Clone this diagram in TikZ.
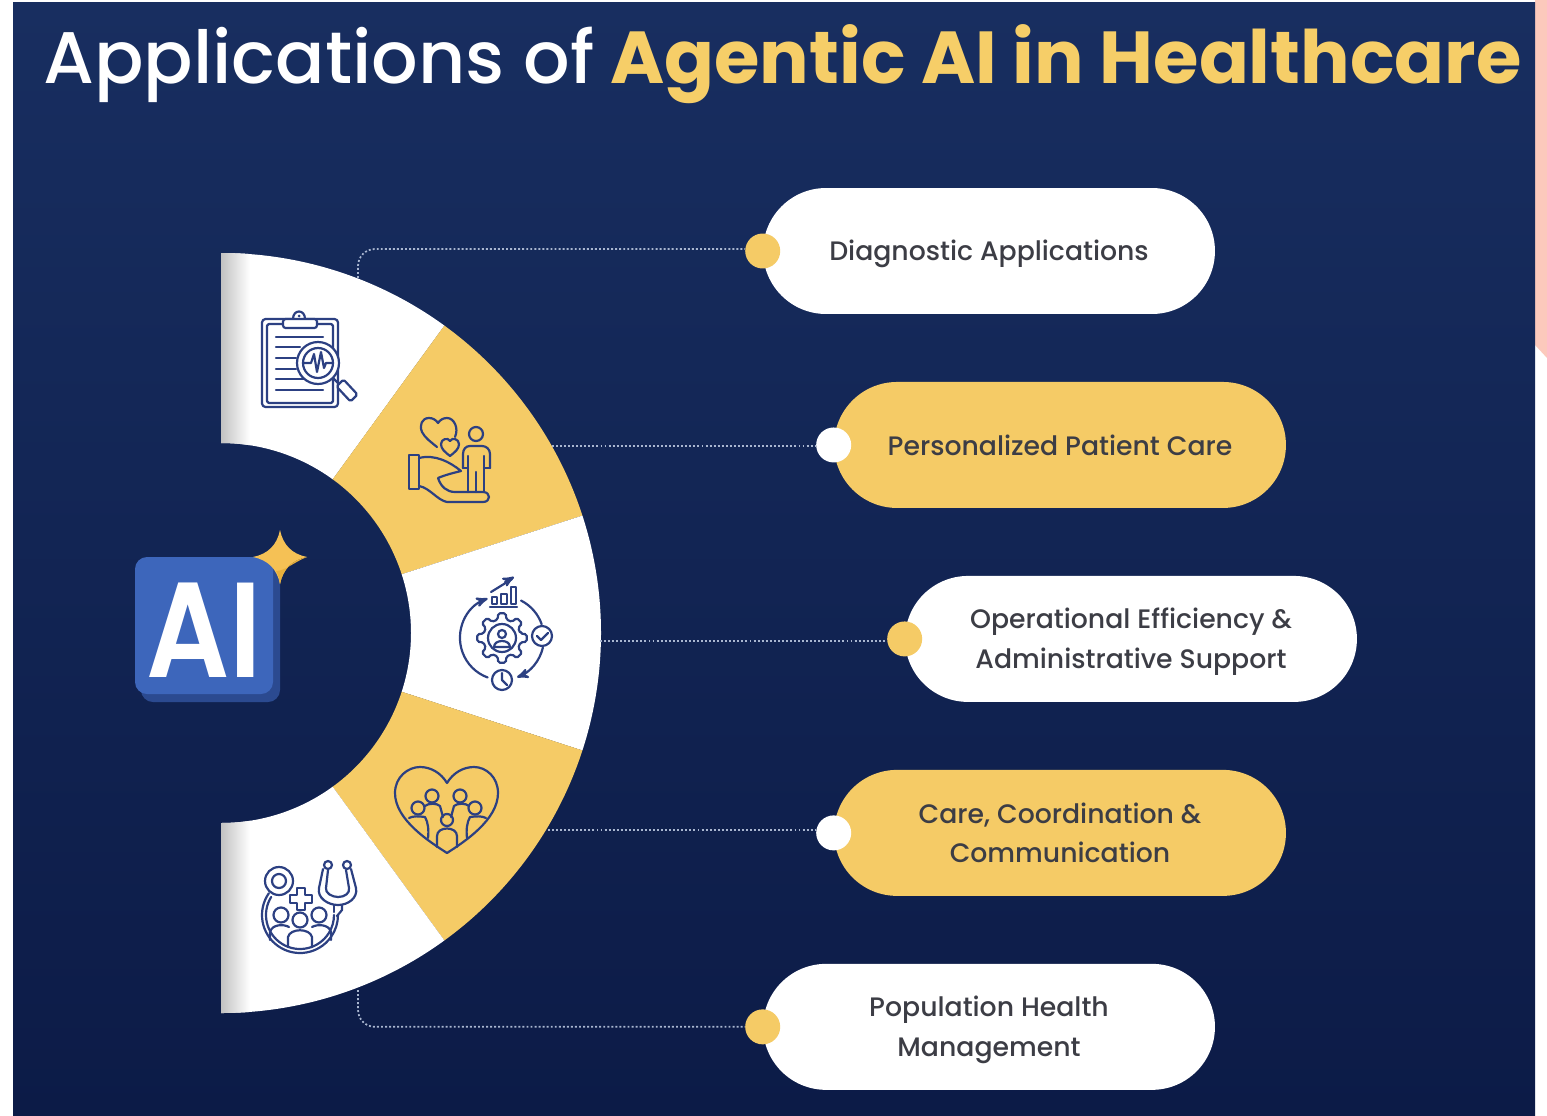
\documentclass[tikz,border=0pt]{standalone}
\usepackage{fontspec}
\setmainfont{Poppins}
\newfontfamily\mediumfont{Poppins Medium}
\newfontfamily\badgefont[FakeStretch=0.86]{Poppins SemiBold}
\usepackage{tikz}
\usetikzlibrary{arrows,shapes,shapes.misc,positioning}

\definecolor{navytop}{HTML}{182E60}
\definecolor{navybot}{HTML}{0C1B47}
\definecolor{gold}{HTML}{F5CB66}
\definecolor{goldtitle}{HTML}{F6CE68}
\definecolor{pink}{HTML}{FCC9BC}
\definecolor{inkblue}{HTML}{2C4082}
\definecolor{labelgray}{HTML}{3C3D45}
\definecolor{dotblue}{HTML}{A9B6D0}
\definecolor{badgeblue}{HTML}{3D66BB}
\definecolor{badgedark}{HTML}{2B4A90}
\definecolor{starlight}{HTML}{F5C155}
\definecolor{stardark}{HTML}{E8B03C}

\newcommand{\droptext}[1]{\raisebox{-1.7pt}[\height][\depth]{#1}}

\begin{document}
\begin{tikzpicture}[x=0.02cm,y=-0.02cm,>=stealth',node distance=3.88cm]
  \tikzstyle{pillwhite}=[rounded rectangle,fill=white,minimum width=9.04cm,minimum height=2.52cm,inner sep=0pt,align=center,text=labelgray,font=\mediumfont\fontsize{15.2}{22.7}\selectfont]
  \tikzstyle{pillgold}=[pillwhite,fill=gold]
  \tikzstyle{dotgold}=[circle,fill=gold,minimum size=0.7cm,inner sep=0pt]
  \tikzstyle{dotwhite}=[dotgold,fill=white]
  \tikzstyle{dotline}=[dotblue,line width=1pt,dash pattern=on 1.1pt off 1.2pt,rounded corners=0.34cm]
  \tikzstyle{iconline}=[inkblue,line width=1.25pt,line cap=round,line join=round]

  \useasboundingbox (0,0) rectangle (1547,1115);

  % page and background
  \fill[white] (0,0) rectangle (1547,1115);
  \fill[pink] (1500,0) -- (1547,0) -- (1547,358) -- (1535,345) -- (1535,0) -- cycle;
  \shade[top color=navytop,bottom color=navybot] (13,3) rectangle (1535,1115);

  \node[anchor=base west,inner sep=0pt,text=white,font=\mediumfont\fontsize{41.6}{50}\selectfont] (title) at (43,84) {Applications of\hspace{-2pt} \textcolor{goldtitle}{\setmainfont{Poppins}\fontsize{41.9}{50}\selectfont\textbf{Agentic AI in Healthcare}}};

  % half wheel
  \coordinate (hub) at (221,633);
  \fill[white] (hub) ++(-90:380) arc[start angle=-90,end angle=-54,radius=380] -- ++(126:190) arc[start angle=-54,end angle=-90,radius=190] -- cycle;
  \fill[gold] (hub) ++(-54:380) arc[start angle=-54,end angle=-18,radius=380] -- ++(162:190) arc[start angle=-18,end angle=-54,radius=190] -- cycle;
  \fill[white] (hub) ++(-18:380) arc[start angle=-18,end angle=18,radius=380] -- ++(198:190) arc[start angle=18,end angle=-18,radius=190] -- cycle;
  \fill[gold] (hub) ++(18:380) arc[start angle=18,end angle=54,radius=380] -- ++(234:190) arc[start angle=54,end angle=18,radius=190] -- cycle;
  \fill[white] (hub) ++(54:380) arc[start angle=54,end angle=90,radius=380] -- ++(0,-190) arc[start angle=90,end angle=54,radius=190] -- cycle;
  \begin{scope}
    \clip (hub) ++(-90:380) arc[start angle=-90,end angle=-54,radius=380] -- ++(126:190) arc[start angle=-54,end angle=-90,radius=190] -- cycle;
    \shade[left color=black!24,right color=white] (221,250) rectangle (250,445);
  \end{scope}
  \begin{scope}
    \clip (hub) ++(54:380) arc[start angle=54,end angle=90,radius=380] -- ++(0,-190) arc[start angle=90,end angle=54,radius=190] -- cycle;
    \shade[left color=black!24,right color=white] (221,820) rectangle (250,1016);
  \end{scope}

  % pills
  \node[pillwhite] (diag) at (989,251) {\droptext{Diagnostic Applications}};
  \node[pillgold, xshift=1.42cm] (pers) [below of=diag] {Personalized Patient Care};
  \node[pillwhite, xshift=1.42cm] (oper) [below of=pers] {\droptext{Operational Efficiency \&}\\\droptext{Administrative Support}};
  \node[pillgold, xshift=-1.42cm] (care) [below of=oper] {Care, Coordination \&\\Communication};
  \node[pillwhite, xshift=-1.42cm] (popu) [below of=care] {\droptext{Population Health}\\\droptext{Management}};

  \node[dotgold] (d1) at (diag.west) {};
  \node[dotwhite] (d2) at (pers.west) {};
  \node[dotgold] (d3) at (oper.west) {};
  \node[dotwhite] (d4) at (care.west) {};
  \node[dotgold] (d5) at (popu.west) {};

  % connectors
  \coordinate (w1) at (358,278);
  \coordinate (w2) at (552,446);
  \coordinate (w3) at (600,641);
  \coordinate (w4) at (548,830);
  \coordinate (w5) at (358,990);
  \draw[dotline] (w1) |- ([yshift=0.04cm]d1.west);
  \draw[dotline] (w2) -- (d2.west |- w2);
  \draw[dotline] (w3) -- (d3.west |- w3);
  \draw[dotline] (w4) -- (d4.west |- w4);
  \draw[dotline] (w5) |- (d5.west);

  % AI badge
  \fill[badgedark,rounded corners=0.24cm] (141,563) rectangle (280,702);
  \fill[badgeblue,rounded corners=0.24cm] (135,557) rectangle (273,694);
  \node[text=white,inner sep=0pt,font=\badgefont\fontsize{77}{80}\selectfont] (ailabel) at (204,630) {AI};
  \fill[starlight] (280,530) .. controls (283,545) and (292,554) .. (307,557) .. controls (292,560) and (283,569) .. (280,584) .. controls (277,569) and (268,560) .. (253,557) .. controls (268,554) and (277,545) .. (280,530) -- cycle;
  \fill[stardark] (307,557) .. controls (292,560) and (283,569) .. (280,584) .. controls (279,578) and (278,574) .. (276,571) .. controls (285,571) and (294,562) .. (307,557) -- cycle;

  % clipboard icon
  \draw[iconline,rounded corners=2pt] (262,319) rectangle (338,407);
  \draw[iconline,rounded corners=1pt] (267,324) rectangle (333,403);
  \draw[iconline,fill=white] (293,319) .. controls (293,309) and (305,309) .. (305,319);
  \draw[iconline,fill=white,rounded corners=1.5pt] (283,319) rectangle (317,328);
  \fill[inkblue] (299,316) circle (1.5);
  \draw[iconline] (276,337) -- (323,337) (276,347) -- (300,347) (276,358) -- (296,358) (276,369) -- (296,369) (276,379) -- (305,379) (276,390) -- (323,390);
  \draw[iconline,fill=white] (318,363) circle (21);
  \draw[iconline] (318,363) circle (15);
  \draw[iconline] (304,363) -- (311,363) -- (314,354) -- (317,372) -- (321,352) -- (324,368) -- (326,363) -- (332,363);
  \draw[iconline] (333,378) -- (339,384);
  \draw[iconline,fill=white,rounded corners=1pt] (343.5,379.5) -- (357.5,394.5) -- (350.5,401.5) -- (336.5,386.5) -- cycle;

  % caring hand icon
  \draw[iconline] (455,437) .. controls (459,428) and (454,418) .. (447,418) .. controls (443,418) and (440,420) .. (438,423) .. controls (436,420) and (433,418) .. (429,418) .. controls (422,418) and (419,425) .. (422,432) .. controls (425,438) and (431,442) .. (437,447);
  \draw[iconline] (450,456) .. controls (445,452) and (441,449) .. (441,444) .. controls (441,439) and (448,437) .. (450,441) .. controls (452,437) and (459,439) .. (459,444) .. controls (459,449) and (455,452) .. (450,456) -- cycle;
  \draw[iconline] (476,434) circle (7);
  \draw[iconline] (463,468) -- (463,454) .. controls (463,449) and (466,446) .. (470,446) -- (482,446) .. controls (486,446) and (490,449) .. (490,454) -- (490,468);
  \draw[iconline] (468,456) -- (468,492) (484,456) -- (484,492) (476,472) -- (476,492) (463,468) -- (468,468) (490,468) -- (484,468);
  \draw[iconline] (409,455) rectangle (419,489);
  \draw[iconline] (419,458) .. controls (435,454) and (450,462) .. (461,471) .. controls (453,473) and (445,475) .. (438,478) .. controls (441,487) and (447,492) .. (455,492) -- (483,492) .. controls (491,492) and (491,502) .. (483,502) -- (447,502) .. controls (437,500) and (430,488) .. (419,486);

  % workflow icon
  \draw[iconline] (491,592) -- (512,579);
  \draw[iconline,->] (505,582) -- (514,577);
  \draw[iconline] (492,597) rectangle (497,604) (501,594) rectangle (507,604) (511,587) rectangle (516,604);
  \draw[iconline] (490,607) -- (517,607);
  \begin{scope}[shift={(502,638)}]
    \draw[iconline,rounded corners=1pt] (-13:19) \foreach \a in {0,45,...,315}{ -- (\a-13:19) -- (\a-9:25) -- (\a+9:25) -- (\a+13:19)} -- cycle;
    \draw[iconline] (0,0) circle (14);
    \draw[iconline] (0,-4) circle (4);
    \draw[iconline] (-8,9) .. controls (-8,1) and (8,1) .. (8,9) -- cycle;
    \draw[iconline,<-] (250:42) arc[start angle=250,end angle=110,radius=42];
    \draw[iconline,->] (13:42) arc[start angle=13,end angle=69,radius=42];
    \draw[iconline] (-63:42) arc[start angle=-63,end angle=-19,radius=42];
  \end{scope}
  \draw[iconline] (502,680) circle (10);
  \draw[iconline] (502,673) -- (502,680) -- (507,685);
  \draw[iconline] (542,636) circle (10);
  \draw[iconline] (537,636) -- (541,640) -- (548,633);

  % community heart icon
  \draw[iconline] (447,853) .. controls (430,842) and (395,820) .. (395,793) .. controls (395,777) and (408,767) .. (420,767) .. controls (431,767) and (441,773) .. (447,783) .. controls (453,773) and (463,767) .. (474,767) .. controls (486,767) and (498,777) .. (498,793) .. controls (498,820) and (464,842) .. (447,853) -- cycle;
  \draw[iconline] (432,796) circle (6.5) (460,796) circle (6.5) (418,808) circle (6.5) (475,808) circle (6.5) (447,820) circle (6);
  \draw[iconline] (409,818) .. controls (413,816) and (418,816) .. (425,817) .. controls (428,822) and (429,830) .. (428,838);
  \draw[iconline] (486,818) .. controls (482,816) and (477,816) .. (470,817) .. controls (467,822) and (466,830) .. (467,838);
  \draw[iconline] (425,806) .. controls (428,803) and (437,803) .. (440,806) -- (443,817);
  \draw[iconline] (469,806) .. controls (466,803) and (457,803) .. (454,806) -- (451,817);
  \draw[iconline] (437,847) -- (437,836) .. controls (437,826) and (457,826) .. (457,836) -- (457,847);

  % stethoscope team icon
  \draw[iconline] (279,881) circle (14);
  \draw[iconline] (279,881) circle (7);
  \begin{scope}[shift={(300,915)}]
    \draw[iconline] (215:38) arc[start angle=215,end angle=0,radius=38];
    \draw[iconline] (212:34) arc[start angle=212,end angle=0,radius=34];
  \end{scope}
  \draw[iconline] (297,888) -- (305,888) -- (305,895) -- (312,895) -- (312,903) -- (305,903) -- (305,910) -- (297,910) -- (297,903) -- (290,903) -- (290,895) -- (297,895) -- cycle;
  \draw[iconline] (281,915) circle (7.5) (319,915) circle (7.5) (300,920) circle (7.5);
  \draw[iconline] (270,940) -- (270,932) .. controls (272,924) and (284,924) .. (289,927);
  \draw[iconline] (331,940) -- (331,932) .. controls (329,924) and (317,924) .. (312,927);
  \draw[iconline] (288,947) -- (288,937) .. controls (290,928) and (310,928) .. (312,937) -- (312,947);
  \draw[iconline] (328,865) circle (4) (347,865) circle (4);
  \draw[iconline] (323,869) -- (319,888) .. controls (317,898) and (328,905) .. (338,905) .. controls (348,905) and (358,898) .. (356,888) -- (351,869);
  \draw[iconline] (328,870) -- (326,888) .. controls (325,893) and (332,897) .. (338,897) .. controls (345,897) and (350,893) .. (349,888) -- (346,870);
  \draw[iconline] (342,905) -- (342,910) -- (337,916);
  \draw[iconline] (334,905) -- (334,912);
\end{tikzpicture}
\end{document}
